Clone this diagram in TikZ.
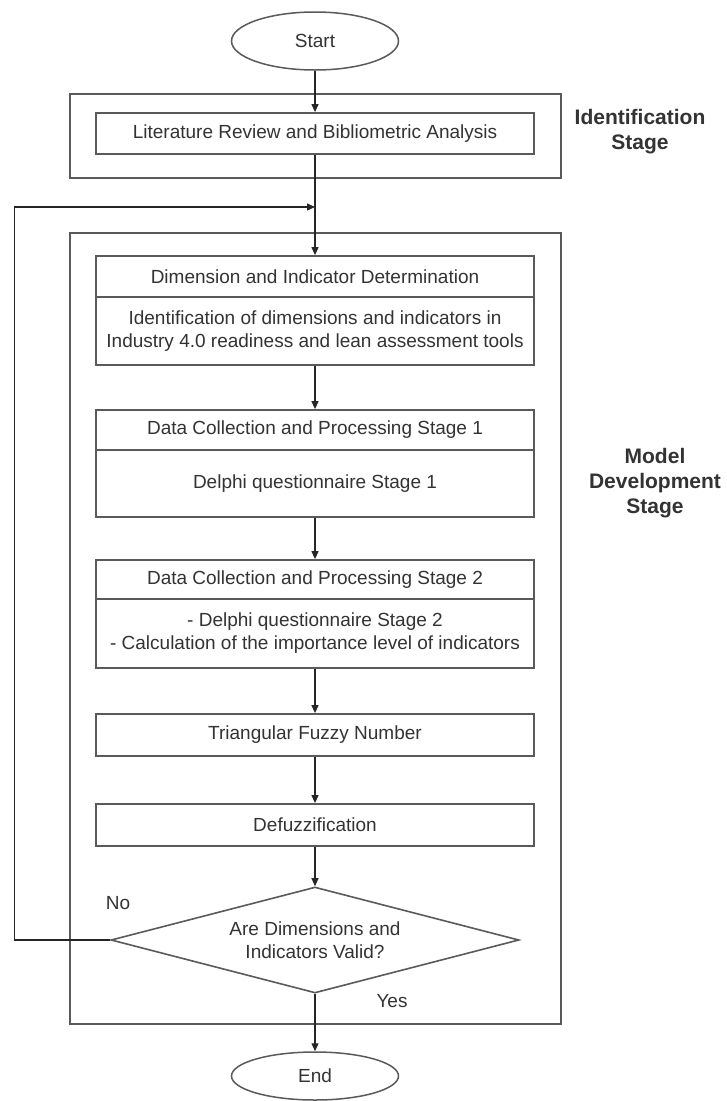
\documentclass[tikz,border=0pt]{standalone}
\usepackage{fontspec}
\setmainfont{Liberation Sans}
\usetikzlibrary{shapes.geometric,arrows.meta}
\definecolor{linegray}{HTML}{5A5A5A}
\definecolor{txt}{HTML}{333333}
\begin{document}
\begin{tikzpicture}[x=1pt,y=-1pt,
  every node/.style={text=txt, font=\fontsize{19}{23}\selectfont},
  box/.style={draw=linegray, line width=1.8pt, rectangle, minimum width=438pt, inner sep=0pt, align=center},
  stagebox/.style={draw=linegray, line width=1.6pt, rectangle, inner sep=0pt},
  term/.style={draw=linegray, line width=1.5pt, ellipse, minimum width=167pt, inner sep=0pt},
  decision/.style={draw=linegray, line width=1.6pt, diamond, aspect=3.85, minimum width=408pt, minimum height=106pt, inner sep=0pt, align=center},
  arr/.style={draw=black!85, line width=1.2pt, -{Triangle[length=8pt,width=7pt]}},
  lbl/.style={font=\fontsize{21}{25}\selectfont\bfseries, align=center}]
\useasboundingbox (0,0) rectangle (727,1101);
\fill[white] (0,0) rectangle (727,1101);

% stage frames
\node[stagebox, minimum width=491pt, minimum height=84pt] (idstage) at (315.5,136) {};
\node[stagebox, minimum width=491pt, minimum height=791pt] (mdstage) at (315.5,628.5) {};
\node[lbl] (idlbl) at (640,132) {Identification\\Stage};
\node[lbl] (mdlbl) at (655,483) {Model\\Development\\Stage};

% terminals
\node[term, minimum height=58pt] (start) at (315,41) {Start};
\node[term, minimum height=48pt] (end) at (315,1076) {End};

% process boxes
\node[box, minimum height=41pt] (lit) at (315,133.5) {Literature Review and Bibliometric Analysis};
\node[box, minimum height=41pt] (dimh) at (315,276.5) {Dimension and Indicator Determination};
\node[box, minimum height=68pt] (dimb) at (315,331) {Identification of dimensions and indicators in\\Industry 4.0 readiness and lean assessment tools};
\node[box, minimum height=40pt] (dc1h) at (315,430) {Data Collection and Processing Stage 1};
\node[box, minimum height=67pt] (dc1b) at (315,483.5) {Delphi questionnaire Stage 1};
\node[box, minimum height=39pt] (dc2h) at (315,579.5) {Data Collection and Processing Stage 2};
\node[box, minimum height=69pt] (dc2b) at (315,633.5) {- Delphi questionnaire Stage 2\\- Calculation of the importance level of indicators};
\node[box, minimum height=42pt] (tri) at (315,735) {Triangular Fuzzy Number};
\node[box, minimum height=42pt] (def) at (315,825) {Defuzzification};
\node[decision] (dec) at (315,940) {Are Dimensions and\\Indicators Valid?};

% branch labels
\node (no) at (118,903) {No};
\node (yes) at (392,1001) {Yes};

% connectors
\coordinate (join) at (315,207);
\draw[arr] (start) -- (lit);
\draw[arr] (lit) -- (dimh);
\draw[arr] (dimb) -- (dc1h);
\draw[arr] (dc1b) -- (dc2h);
\draw[arr] (dc2b) -- (tri);
\draw[arr] (tri) -- (def);
\draw[arr] (def) -- (dec);
\draw[arr] (dec) -- (end);
\draw[arr] (dec.west) -- ++(-96,0) |- (join);
\end{tikzpicture}
\end{document}
